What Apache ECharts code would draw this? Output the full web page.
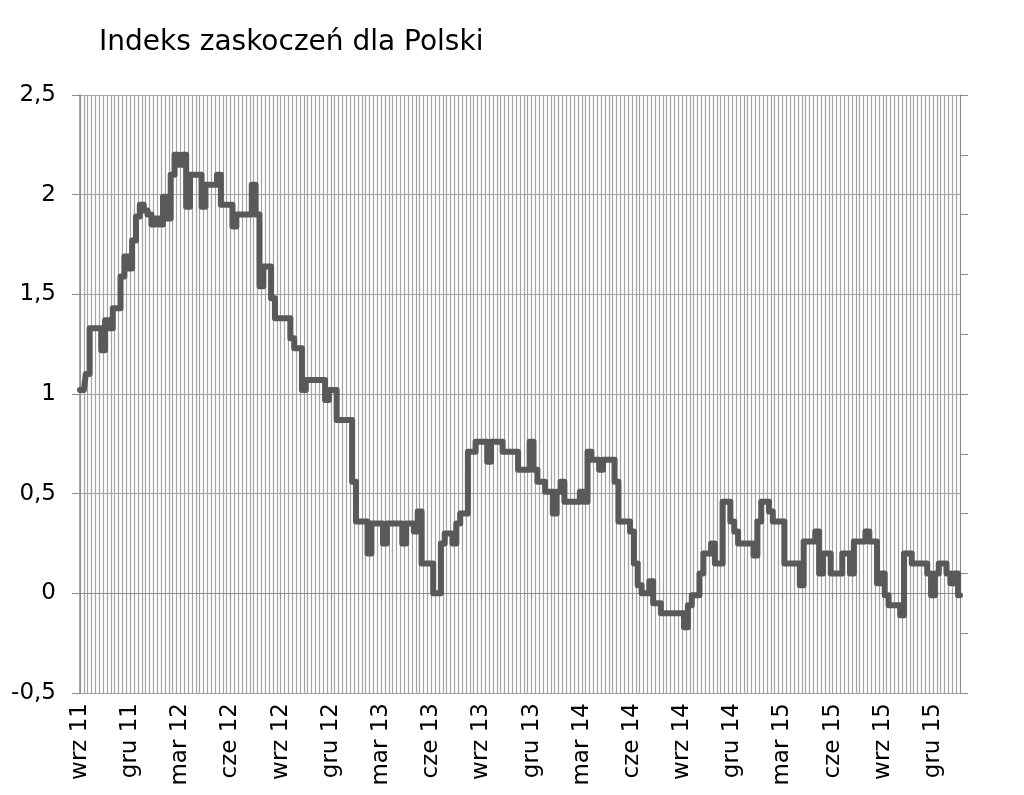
<!DOCTYPE html>
<html>
<head>
<meta charset="utf-8">
<script src="https://cdn.jsdelivr.net/npm/echarts@6/dist/echarts.min.js"></script>
<style>html,body{margin:0;padding:0;background:#fff}#c{width:1024px;height:795px}</style>
</head>
<body>
<div id="c"></div>
<script>
const titleText = 'Indeks zaskoczeń dla Polski';
const tickLabels = ['wrz 11','gru 11','mar 12','cze 12','wrz 12','gru 12','mar 13','cze 13','wrz 13','gru 13','mar 14','cze 14','wrz 14','gru 14','mar 15','cze 15','wrz 15','gru 15'];
const weeksPerTick = 13;
const yTickLabels = ['-0,5','0','0,5','1','1,5','2','2,5'];
const values = [
 1.02,1.02,1.10,1.33,1.33,1.33,1.22,1.37,1.33,1.43,
 1.43,1.59,1.69,1.63,1.77,1.89,1.95,1.92,1.90,1.85,
 1.88,1.85,1.99,1.88,2.10,2.20,2.15,2.20,1.94,2.10,
 2.10,2.10,1.94,2.05,2.05,2.05,2.10,1.95,1.95,1.95,
 1.84,1.90,1.90,1.90,1.90,2.05,1.90,1.54,1.64,1.64,
 1.48,1.38,1.38,1.38,1.38,1.28,1.23,1.23,1.02,1.07,
 1.07,1.07,1.07,1.07,0.97,1.02,1.02,0.87,0.87,0.87,
 0.87,0.56,0.36,0.36,0.36,0.20,0.35,0.35,0.35,0.25,
 0.35,0.35,0.35,0.35,0.25,0.35,0.35,0.31,0.41,0.15,
 0.15,0.15,0.00,0.00,0.25,0.30,0.30,0.25,0.35,0.40,
 0.40,0.71,0.71,0.76,0.76,0.76,0.66,0.76,0.76,0.76,
 0.71,0.71,0.71,0.71,0.62,0.62,0.62,0.76,0.62,0.56,
 0.56,0.51,0.51,0.40,0.51,0.56,0.46,0.46,0.46,0.46,
 0.51,0.46,0.71,0.67,0.67,0.62,0.67,0.67,0.67,0.56,
 0.36,0.36,0.36,0.31,0.15,0.04,0.00,0.00,0.06,-0.05,
 -0.05,-0.10,-0.10,-0.10,-0.10,-0.10,-0.10,-0.17,-0.06,-0.01,
 -0.01,0.10,0.20,0.20,0.25,0.15,0.15,0.46,0.46,0.36,
 0.31,0.25,0.25,0.25,0.25,0.19,0.36,0.46,0.46,0.41,
 0.36,0.36,0.36,0.15,0.15,0.15,0.15,0.04,0.26,0.26,
 0.26,0.31,0.10,0.20,0.20,0.10,0.10,0.10,0.20,0.20,
 0.10,0.26,0.26,0.26,0.31,0.26,0.26,0.05,0.10,-0.01,
 -0.06,-0.06,-0.06,-0.11,0.20,0.20,0.15,0.15,0.15,0.15,
 0.10,-0.01,0.10,0.15,0.15,0.10,0.05,0.10,-0.01
];
// weekly categories starting early September 2011
const startDate = new Date(Date.UTC(2011, 8, 2));
const categories = values.map((_, i) => {
  const d = new Date(startDate.getTime() + i * 7 * 86400000);
  return d.toISOString().slice(0, 10);
});

const FONT = 'DejaVu Sans';
const gridColor = '#a3a3a3';
const axisColor = '#8c8c8c';
const isTick = (i) => i % weeksPerTick === 0;

const chart = echarts.init(document.getElementById('c'), null, {renderer: 'canvas'});
chart.setOption({
  animation: false,
  backgroundColor: '#fff',
  title: {
    text: titleText, left: 94, top: 24,
    textStyle: {fontFamily: FONT, fontSize: 28, fontWeight: 'normal', color: '#000'}
  },
  grid: {left: 80, right: 64, top: 95, bottom: 102, containLabel: false},
  xAxis: [
    {
      type: 'category', data: categories, boundaryGap: false, position: 'bottom',
      axisLine: {show: false, onZero: false},
      axisTick: {show: false},
      axisLabel: {
        interval: (i) => isTick(i), rotate: 90, margin: 10,
        fontFamily: FONT, fontSize: 23, color: '#000',
        formatter: (v, i) => isTick(i) ? tickLabels[i / weeksPerTick] : ''
      },
      splitLine: {show: true, interval: 0, lineStyle: {color: gridColor, width: 1.2}}
    },
    {
      type: 'category', data: categories, boundaryGap: false, position: 'bottom',
      axisLine: {show: true, onZero: true, lineStyle: {color: axisColor}},
      axisTick: {show: true, interval: (i) => isTick(i), length: 6, lineStyle: {color: axisColor}},
      axisLabel: {show: false},
      splitLine: {show: false}
    }
  ],
  yAxis: [
    {
      type: 'value', min: -0.5, max: 2.5, interval: 0.5, position: 'left',
      axisLine: {show: true, lineStyle: {color: axisColor, width: 1.5}},
      axisTick: {show: true, length: 8, lineStyle: {color: axisColor}},
      axisLabel: {
        margin: 24, fontFamily: FONT, fontSize: 23, color: '#000',
        formatter: (v) => yTickLabels[Math.round((v + 0.5) / 0.5)]
      },
      splitLine: {show: true, lineStyle: {color: gridColor, width: 1}}
    },
    {
      type: 'value', min: 0, max: 10, interval: 1, position: 'right',
      axisLine: {show: true, lineStyle: {color: axisColor}},
      axisTick: {show: true, length: 8, lineStyle: {color: axisColor}},
      axisLabel: {show: false},
      splitLine: {show: false}
    }
  ],
  series: [{
    type: 'line', data: values, xAxisIndex: 0, yAxisIndex: 0,
    symbol: 'none', smooth: false, step: 'middle',
    lineStyle: {color: '#595959', width: 6, join: 'round', cap: 'round'}
  }]
});
</script>
</body>
</html>
